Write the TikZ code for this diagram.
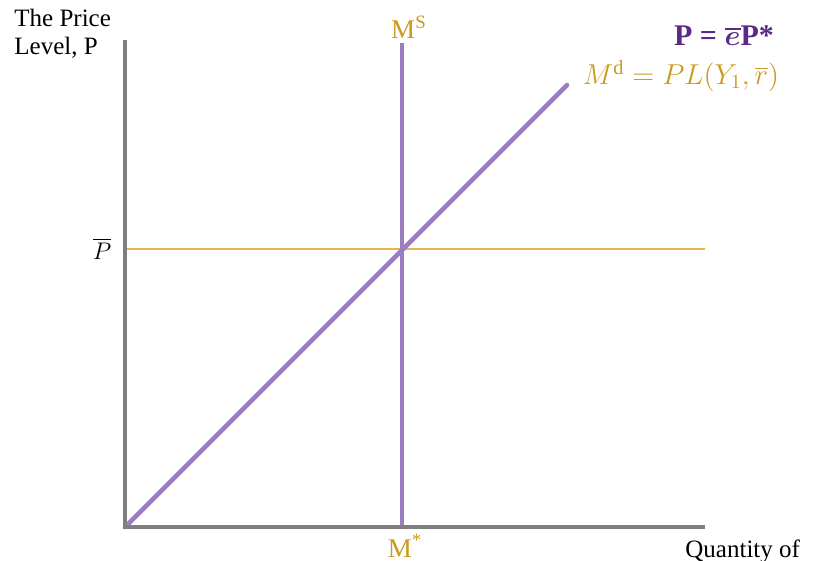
\documentclass[tikz,border=0pt]{standalone}
\usepackage{amsmath}
\usepackage{fontspec}
\setmainfont{Liberation Serif}
\usetikzlibrary{positioning,calc}
\definecolor{axisgrey}{HTML}{7F7F7F}
\definecolor{lavender}{HTML}{9B7DC2}
\definecolor{goldline}{HTML}{E6B64A}
\definecolor{goldtext}{HTML}{CC9A1E}
\definecolor{deeppurple}{HTML}{5B2A86}
\tikzset{
  axisln/.style={draw=axisgrey, line width=1.7pt},
  curveln/.style={draw=lavender, line width=2.3pt},
  levelln/.style={draw=goldline, line width=1pt},
  lbl/.style={font=\fontsize{12.5}{14}\selectfont, inner sep=1pt},
  goldlbl/.style={lbl, text=goldtext},
}

\begin{document}
\begin{tikzpicture}[x=0.5pt, y=-0.5pt]
  \useasboundingbox (0,0) rectangle (829,561);

  % axes
  \coordinate (o) at (125,527);
  \coordinate (ytop) at (125,40);
  \coordinate (xend) at (705,527);
  % curves
  \coordinate (mstop) at (402,43);
  \coordinate (msbot) at (402,527);
  \coordinate (mdend) at (567,85);
  \coordinate (pl) at (125,249);
  \coordinate (pr) at (705,249);

  \draw[levelln] (pl) -- (pr);
  \draw[curveln] (msbot) -- (mstop);
  \draw[curveln, line cap=round] (o) -- (mdend);
  \draw[axisln] (ytop) -- (o) -- (xend);

  \node[lbl, anchor=north west, align=left] (ylab) at (12,7) {The Price\\Level, P};
  \node[lbl, anchor=north west] (xlab) at (683,537) {Quantity of};
  \node[goldlbl, font=\fontsize{13.5}{15}\selectfont] (ms) at (409,27) {M\textsuperscript{S}};
  \node[lbl, text=deeppurple, font=\fontsize{15}{17}\selectfont\bfseries] (peq) at (724,36) {P = $\boldsymbol{\overline{e}}$P*};
  \node[goldlbl, font=\fontsize{14.5}{16}\selectfont] (md) at (681,76) {$M^{\mathrm{d}} = PL(Y_1, \overline{r})$};
  \node[lbl, font=\fontsize{13}{15}\selectfont] (pbar) at (102,249) {$\overline{P}$};
  \node[goldlbl, inner sep=0pt, anchor=base, font=\fontsize{13.5}{15}\selectfont] (mstar) at (405,557) {M\textsuperscript{*}};
\end{tikzpicture}
\end{document}
